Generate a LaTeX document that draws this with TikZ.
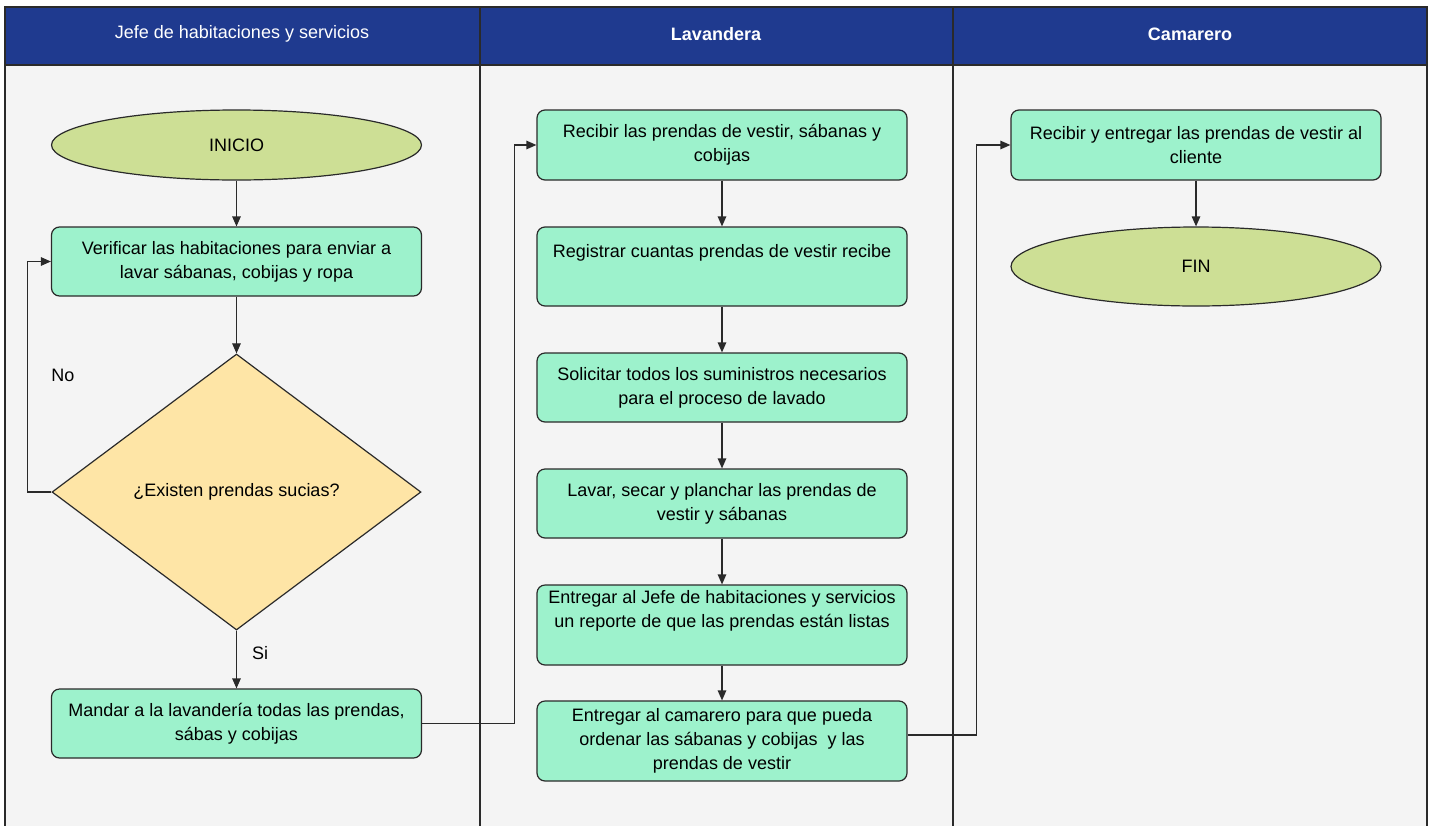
\documentclass[tikz,border=0pt]{standalone}
\usepackage{fontspec}
\setmainfont{Liberation Sans}
\usetikzlibrary{shapes.geometric,arrows.meta}
\definecolor{hdr}{HTML}{1F3A8F}
\definecolor{lanebg}{HTML}{F4F4F4}
\definecolor{boxfill}{HTML}{9DF2CC}
\definecolor{termfill}{HTML}{CDDF95}
\definecolor{decfill}{HTML}{FEE5A6}
\definecolor{edge}{HTML}{2A2A2A}
\begin{document}
\begin{tikzpicture}[x=1pt,y=-1pt,
  every node/.style={font=\fontsize{18}{24}\selectfont},
  stepbox/.style={draw=edge,line width=1.2pt,fill=boxfill,rounded corners=8pt,
    minimum width=370pt,inner sep=0pt,align=center},
  term/.style={ellipse,draw=edge,line width=1.2pt,fill=termfill,minimum width=370pt,inner sep=0pt},
  decision/.style={diamond,draw=edge,line width=1.2pt,fill=decfill,inner sep=0pt,
    shape aspect=1.337,minimum width=369pt,minimum height=276pt},
  hdrtext/.style={text=white,font=\fontsize{18}{24}\selectfont},
  arr/.style={draw=edge,line width=1.2pt,-{Triangle[length=10pt,width=8.5pt]}},
  plain/.style={text=black,inner sep=0pt}]
\useasboundingbox (0,0) rectangle (1434,825);
% lanes
\fill[lanebg] (5,7) rectangle (1427,840);
\fill[hdr] (5,7) rectangle (1427,65);
\draw[edge,line width=1.4pt] (5,840) -- (5,7) -- (1427,7) -- (1427,840);
\draw[edge,line width=1.4pt] (5,65) -- (1427,65);
\draw[edge,line width=1.4pt] (480,7) -- (480,840);
\draw[edge,line width=1.4pt] (953,7) -- (953,840);
\node[hdrtext] (h1) at (242,34) {Jefe de habitaciones y servicios};
\node[hdrtext,font=\fontsize{18}{24}\selectfont\bfseries] (h2) at (716,34) {Lavandera};
\node[hdrtext,font=\fontsize{18}{24}\selectfont\bfseries] (h3) at (1190,34) {Camarero};
% lane 1
\node[term,minimum height=70pt] (inicio) at (236.5,145) {INICIO};
\node[stepbox,minimum height=69pt] (verif) at (236.5,261.5) {Verificar las habitaciones para enviar a\\lavar sábanas, cobijas y ropa};
\node[decision] (dec) at (236.5,492) {¿Existen prendas sucias?};
\node[stepbox,minimum height=69pt] (mandar) at (236.5,723.5) {Mandar a la lavandería todas las prendas,\\sábas y cobijas};
\node[plain] (no) at (63,375) {No};
\node[plain] (si) at (260,653) {Si};
% lane 2
\node[stepbox,minimum height=70pt] (rec1) at (722,145) {Recibir las prendas de vestir, sábanas y\\cobijas};
\node[stepbox,minimum height=79pt] (reg) at (722,266.5) {};
\node[plain] (regt) at (722,253) {Registrar cuantas prendas de vestir recibe};
\node[stepbox,minimum height=69pt] (sol) at (722,387.5) {Solicitar todos los suministros necesarios\\para el proceso de lavado};
\node[stepbox,minimum height=69pt] (lav) at (722,503.5) {Lavar, secar y planchar las prendas de\\vestir y sábanas};
\node[stepbox,minimum height=80pt] (entj) at (722,625) {};
\node[plain,align=center] (entjt) at (722,610.5) {Entregar al Jefe de habitaciones y servicios\\un reporte de que las prendas están listas};
\node[stepbox,minimum height=80pt] (entc) at (722,741) {Entregar al camarero para que pueda\\ordenar las sábanas y cobijas~ y las\\prendas de vestir};
% lane 3
\node[stepbox,minimum height=70pt] (rec2) at (1196,145) {Recibir y entregar las prendas de vestir al\\cliente};
\node[term,minimum height=79pt] (fin) at (1196,266.5) {FIN};
% connectors
\draw[arr] (inicio) -- (verif);
\draw[arr] (verif) -- (dec);
\draw[arr] (dec) -- (mandar);
\draw[arr] (dec.west) -- ++(-24,0) |- (verif.west);
\draw[arr] (mandar.east) -- ++(92,0) |- (rec1.west);
\draw[arr] (rec1) -- (reg);
\draw[arr] (reg) -- (sol);
\draw[arr] (sol) -- (lav);
\draw[arr] (lav) -- (entj);
\draw[arr] (entj) -- (entc);
\draw[arr] ([yshift=6pt]entc.east) -- ++(69,0) |- (rec2.west);
\draw[arr] (rec2) -- (fin);
\end{tikzpicture}
\end{document}
